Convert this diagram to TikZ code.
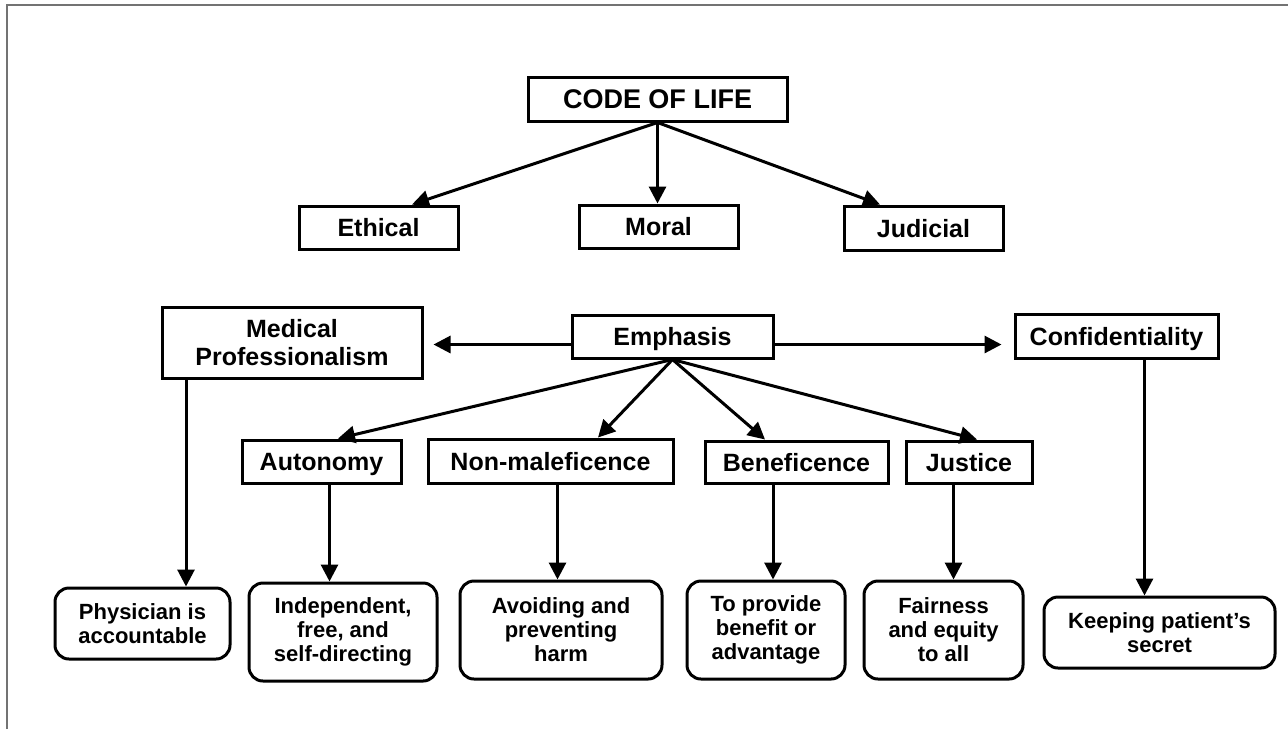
\documentclass[tikz,border=0pt]{standalone}
\usepackage{fontspec}
\setmainfont{Liberation Sans}
\usetikzlibrary{arrows.meta,calc}

\begin{document}
\begin{tikzpicture}[x=0.5pt,y=-0.5pt,
    box/.style={draw,line width=1.5pt,inner sep=0pt,align=center,
      font=\fontsize{12.5}{14}\selectfont\bfseries},
    label/.style={box,text height=9pt,text depth=0pt},
    note/.style={box,rounded corners=7pt,font=\fontsize{11}{12}\selectfont\bfseries},
    arr/.style={line width=1.5pt,-{Triangle[length=8.5pt,width=8.5pt]}}]
  \useasboundingbox (0,0) rectangle (1288,729);
  \draw[line width=1pt,black!55] (7,729) -- (7,5) -- (1288,5);

  % top level
  \node[label,minimum width=129.5pt,minimum height=22pt,font=\fontsize{13.5}{15}\selectfont\bfseries,text height=9.7pt] (code) at (657.5,99) {CODE OF LIFE};
  \node[label,minimum width=79.5pt,minimum height=21.5pt] (ethical) at (378.5,227.5) {Ethical};
  \node[label,minimum width=79.5pt,minimum height=21.5pt] (moral) at (658.5,226.5) {Moral};
  \node[label,minimum width=79.5pt,minimum height=22pt] (judicial) at (923.5,228) {Judicial};

  % middle row
  \node[box,minimum width=130pt,minimum height=35.5pt] (medprof) at (292,342.5) {Medical\\Professionalism};
  \node[label,minimum width=100.5pt,minimum height=21.5pt] (emph) at (672.5,336.5) {Emphasis};
  \node[label,minimum width=101.5pt,minimum height=22pt] (conf) at (1116.5,336) {Confidentiality};

  % principles
  \node[label,minimum width=79.5pt,minimum height=21.5pt] (auton) at (321.5,461.5) {Autonomy};
  \node[label,minimum width=122.5pt,minimum height=22pt] (nonmal) at (550.5,461) {Non-maleficence};
  \node[label,minimum width=91.5pt,minimum height=21pt] (benef) at (796.5,462) {Beneficence};
  \node[label,minimum width=63pt,minimum height=21pt] (justice) at (969,462) {Justice};

  % meanings
  \node[note,minimum width=87.5pt,minimum height=35.5pt] (physician) at (142.5,623.5) {Physician is\\accountable};
  \node[note,minimum width=94pt,minimum height=49pt] (indep) at (343,632) {Independent,\\free, and\\self-directing};
  \node[note,minimum width=101pt,minimum height=49pt] (avoid) at (561,630) {Avoiding and\\preventing\\harm};
  \node[note,minimum width=79pt,minimum height=49pt] (provide) at (766,630) {To provide\\benefit or\\advantage};
  \node[note,minimum width=79.5pt,minimum height=49pt] (fair) at (943.5,630) {Fairness\\and equity\\to all};
  \node[note,minimum width=115.5pt,minimum height=35.5pt] (keep) at (1159.5,632.5) {Keeping patient’s\\secret};

  \draw[arr] (code.south) -- ($(ethical.north)+(33.5,0)$);
  \draw[arr] (code.south) -- (code.south |- moral.north);
  \draw[arr] (code.south) -- ($(judicial.north)+(-43.5,0)$);

  \draw[arr] ($(emph.west)+(0,8)$) -- ($(medprof.east |- emph.west)+(10,8)$);
  \draw[arr] ($(emph.east)+(0,8)$) -- ($(conf.west |- emph.east)+(-12,8)$);

  \draw[arr] (emph.south) -- ($(auton.north)+(16.5,0)$);
  \draw[arr] (emph.south) -- ($(nonmal.north)+(47.5,0)$);
  \draw[arr] (emph.south) -- ($(benef.north)+(-31.5,0)$);
  \draw[arr] (emph.south) -- ($(justice.north)+(8,0)$);

  \draw[arr] ([xshift=-53pt]medprof.south) -- ([xshift=-53pt]medprof.south |- physician.north);
  \draw[arr] ([xshift=4pt]auton.south) -- ([xshift=4pt]auton.south |- indep.north);
  \draw[arr] ([xshift=3.5pt]nonmal.south) -- ([xshift=3.5pt]nonmal.south |- avoid.north);
  \draw[arr] ([xshift=-11.75pt]benef.south) -- ([xshift=-11.75pt]benef.south |- provide.north);
  \draw[arr] ([xshift=-7.75pt]justice.south) -- ([xshift=-7.75pt]justice.south |- fair.north);
  \draw[arr] ([xshift=14pt]conf.south) -- ([xshift=14pt]conf.south |- keep.north);
\end{tikzpicture}
\end{document}
